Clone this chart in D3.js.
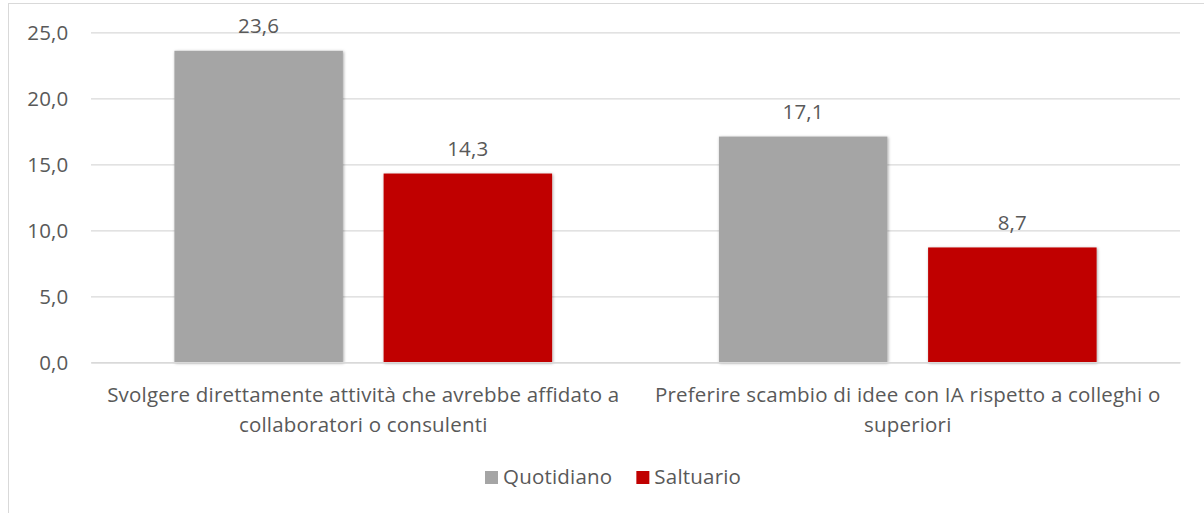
<!DOCTYPE html>
<html>
<head>
<meta charset="utf-8">
<script src="https://cdn.jsdelivr.net/npm/d3@7"></script>
<style>
  html, body { margin: 0; padding: 0; background: #fff; }
  svg { display: block; }
  text { font-family: "Open Sans", Lato, sans-serif; fill: #595959; letter-spacing: 0.2px; }
</style>
</head>
<body>
<svg id="chart" width="1204" height="513"></svg>
<script>
// data
var categories = [
  ['Svolgere direttamente attività che avrebbe affidato a', 'collaboratori o consulenti'],
  ['Preferire scambio di idee con IA rispetto a colleghi o', 'superiori']
];
var seriesNames = ['Quotidiano', 'Saltuario'];
var quotidiano = [23.6, 17.1];
var saltuario = [14.3, 8.7];
var yTicks = [0, 5, 10, 15, 20, 25];

var colors = ['#A5A5A5', '#C00000'];
var fontSize = 20.5;

var svg = d3.select('#chart');
var plot_left = 91;
var plot_right = 1180;
var plot_top = 32.3;
var plot_bottom = 362.3;

// chart border (cut off on the right and bottom like the source)
svg.append('rect')
  .attr('x', 8.5).attr('y', 3.5)
  .attr('width', 1220).attr('height', 540)
  .attr('fill', 'none')
  .attr('stroke', '#D9D9D9')
  .attr('stroke-width', 1);

// shadow for the bars
var defs = svg.append('defs');
var f = defs.append('filter').attr('id', 'shadow')
  .attr('x', '-10%').attr('y', '-10%').attr('width', '120%').attr('height', '120%');
f.append('feDropShadow')
  .attr('dx', 0.8).attr('dy', 0.8)
  .attr('stdDeviation', 1.6)
  .attr('flood-color', '#000')
  .attr('flood-opacity', 0.35);

var x0 = d3.scaleBand()
  .domain(d3.range(categories.length))
  .range([plot_left, plot_right])
  .paddingInner(0).paddingOuter(0);
var x1 = d3.scaleBand()
  .domain(d3.range(seriesNames.length))
  .range([0, x0.bandwidth()])
  .paddingInner(0.1946)
  .paddingOuter(0.3987);
var y = d3.scaleLinear()
  .domain([0, 25])
  .range([plot_bottom, plot_top]);

var fmt = function(v) { return d3.format('.1f')(v).replace('.', ','); };

// gridlines + y labels
var yAxis = d3.axisLeft(y)
  .tickValues(yTicks)
  .tickSize(-(plot_right - plot_left))
  .tickPadding(22.5)
  .tickFormat(fmt);
svg.append('g')
  .attr('transform', 'translate(' + plot_left + ',0)')
  .call(yAxis)
  .call(function(g) {
    g.select('.domain').remove();
    g.selectAll('.tick line').attr('stroke', '#D9D9D9').attr('stroke-width', 1.3);
    g.selectAll('.tick text')
      .attr('font-size', fontSize)
      .attr('font-family', '"Open Sans", sans-serif')
      .attr('fill', '#595959')
      .attr('dy', null)
      .attr('y', 7)
      .attr('dominant-baseline', 'alphabetic');
  });

// bars
var rows = categories.map(function(c, i) { return [quotidiano[i], saltuario[i]]; });
var groups = svg.append('g').selectAll('g')
  .data(rows)
  .join('g')
  .attr('transform', function(d, i) { return 'translate(' + x0(i) + ',0)'; });

groups.selectAll('rect')
  .data(function(d) { return d; })
  .join('rect')
  .attr('x', function(d, j) { return x1(j); })
  .attr('y', function(d) { return y(d); })
  .attr('width', x1.bandwidth())
  .attr('height', function(d) { return y(0) - y(d); })
  .attr('fill', function(d, j) { return colors[j]; })
  .attr('filter', 'url(#shadow)');

groups.selectAll('text.val')
  .data(function(d) { return d; })
  .join('text')
  .attr('class', 'val')
  .attr('x', function(d, j) { return x1(j) + x1.bandwidth() / 2; })
  .attr('y', function(d) { return y(d) - 17.5; })
  .attr('text-anchor', 'middle')
  .attr('font-size', fontSize)
  .text(fmt);

// x axis line
var xAxis = d3.axisBottom(x0).tickSize(0).tickFormat('');
svg.append('g')
  .attr('transform', 'translate(0,' + y(0) + ')')
  .call(xAxis)
  .call(function(g) {
    g.select('.domain').attr('stroke', '#D9D9D9').attr('stroke-width', 1.5);
  });

// category labels
svg.append('g').selectAll('text')
  .data(categories)
  .join('text')
  .attr('text-anchor', 'middle')
  .attr('font-size', fontSize)
  .attr('transform', function(d, i) { return 'translate(' + (x0(i) + x0.bandwidth() / 2) + ',401.7)'; })
  .selectAll('tspan')
  .data(function(d) { return d; })
  .join('tspan')
  .attr('x', 0)
  .attr('y', function(d, k) { return k * 30; })
  .text(function(d) { return d; });

// legend
var legend = svg.append('g');
var lx = 485;
seriesNames.forEach(function(name, j) {
  legend.append('rect')
    .attr('x', lx).attr('y', 471)
    .attr('width', 13).attr('height', 13)
    .attr('fill', colors[j]);
  var t = legend.append('text')
    .attr('x', lx + 18).attr('y', 484)
    .attr('font-size', fontSize)
    .text(name);
  lx += 18 + t.node().getComputedTextLength() + 24;
});
</script>
</body>
</html>
